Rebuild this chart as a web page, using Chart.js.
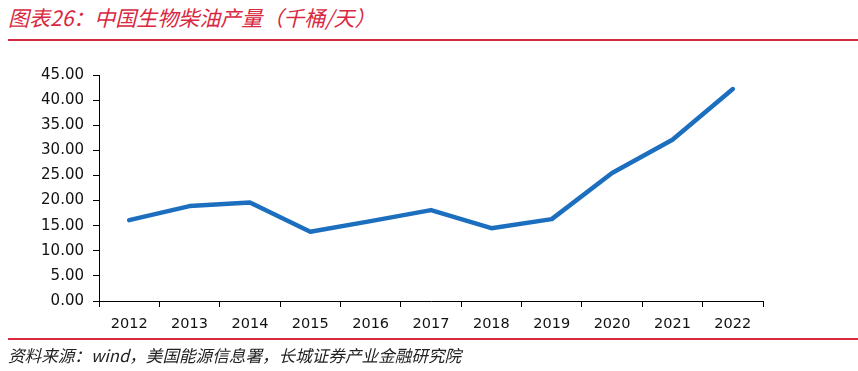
<!DOCTYPE html>
<html>
<head>
<meta charset="utf-8">
<script src="https://cdn.jsdelivr.net/npm/chart.js@4/dist/chart.umd.min.js"></script>
<style>
  html, body { margin: 0; padding: 0; background: #fff; }
  #wrap { position: relative; width: 858px; height: 371px; overflow: hidden; }
  #title {
    position: absolute; left: 8px; top: 3px;
    font-family: "Noto Sans CJK SC", sans-serif; font-style: italic;
    font-size: 21px; line-height: 28px; color: #d9283f; white-space: nowrap;
  }
  .rule { position: absolute; left: 8px; right: 0; height: 1.5px; background: #d9283f; }
  #source {
    position: absolute; left: 8px; top: 344px;
    font-family: "Noto Sans CJK SC", sans-serif; font-style: italic;
    font-size: 16.6px; line-height: 22px; color: #222; white-space: nowrap;
  }
  #chart { position: absolute; left: 0; top: 0; }
</style>
</head>
<body>
<div id="wrap">
  <div id="title">图表26：中国生物柴油产量（千桶/天）</div>
  <div class="rule" style="top:39px"></div>
  <canvas id="chart" width="858" height="371"></canvas>
  <div class="rule" style="top:338px"></div>
  <div id="source">资料来源：wind，美国能源信息署，长城证券产业金融研究院</div>
</div>
<script>
  const years = ["2012", "2013", "2014", "2015", "2016", "2017", "2018", "2019", "2020", "2021", "2022"];
  const output = [16.1, 18.9, 19.6, 13.8, 15.9, 18.1, 14.5, 16.3, 25.5, 32.1, 42.2];
  const yMax = 45;
  const yStep = 5;

  const ctx = document.getElementById("chart").getContext("2d");
  new Chart(ctx, {
    type: "line",
    data: {
      labels: years,
      datasets: [{
        data: output,
        borderColor: "#1c6fbe",
        borderWidth: 4.5,
        pointRadius: 0,
        tension: 0,
        borderCapStyle: "round",
        borderJoinStyle: "round",
        fill: false
      }]
    },
    options: {
      responsive: false,
      animation: false,
      layout: { padding: { top: 75, right: 95, left: 0, bottom: 0 } },
      plugins: {
        legend: { display: false },
        tooltip: { enabled: false }
      },
      scales: {
        x: {
          offset: true,
          grid: { offset: true, drawOnChartArea: false, drawTicks: true, tickLength: 6, color: "#000" },
          border: { display: true, color: "#000", width: 1 },
          ticks: { color: "#111", font: { family: "DejaVu Sans", size: 14.5 }, padding: 9, maxRotation: 0 },
          afterFit: (scale) => { scale.height = 70; }
        },
        y: {
          min: 0,
          max: yMax,
          grid: { drawOnChartArea: false, drawTicks: true, tickLength: 6, color: "#000" },
          border: { display: true, color: "#000", width: 1 },
          ticks: {
            stepSize: yStep,
            color: "#111",
            font: { family: "DejaVu Sans", size: 15 },
            padding: 9,
            callback: (v) => Number(v).toFixed(2)
          },
          afterFit: (scale) => { scale.width = 99; }
        }
      }
    }
  });
</script>
</body>
</html>
